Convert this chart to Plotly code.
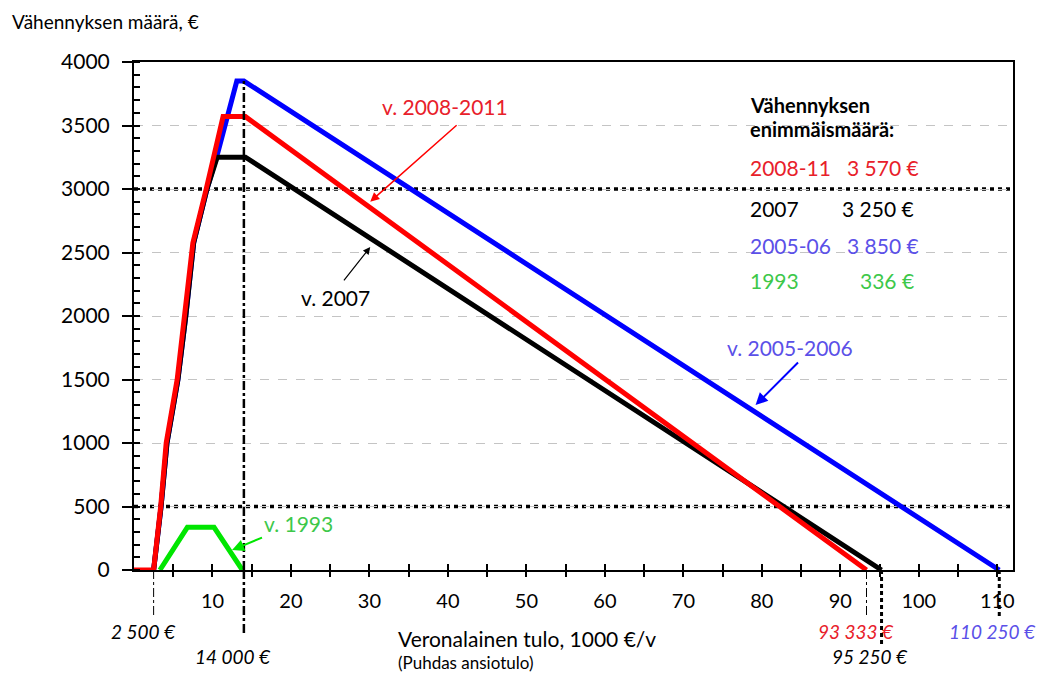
import plotly.graph_objects as go

# ---- data ----
x_red = [0, 2.5, 3.4, 4.1, 5.5, 6.5, 7.5, 9.2, 11.35, 14.2, 93.333]
y_red = [0, 0, 500, 1000, 1500, 2000, 2575, 3000, 3570, 3570, 0]
x_black = [2.5, 3.45, 4.2, 5.6, 6.6, 7.6, 9.3, 10.6, 14.2, 95.25]
y_black = [0, 500, 1000, 1500, 2000, 2575, 3000, 3250, 3250, 0]
x_blue = [2.5, 3.45, 4.2, 5.6, 6.6, 7.6, 9.3, 10.7, 13.1, 14.0, 110.25]
y_blue = [0, 500, 1000, 1500, 2000, 2575, 3000, 3290, 3850, 3850, 0]
x_green = [3.3, 6.8, 10.2, 13.8]
y_green = [0, 336, 336, 0]

x_tickvals = [5, 10, 15, 20, 25, 30, 35, 40, 45, 50, 55, 60, 65, 70, 75, 80, 85, 90, 95, 100, 105, 110]
x_ticktext = ["" if v % 10 else str(v) for v in x_tickvals]

FONT = "Lato"
RED_T = "#E8202A"
PURP_T = "#5B50E8"
GREEN_T = "#3DC84A"

# plot-area pixel geometry helper for layout text placement
L, R, T, B = 134, 1013, 62, 570
def px(xp):
    return (xp - L) / (R - L)
def py(yp):
    return (B - yp) / (B - T)

fig = go.Figure()
fig.add_trace(go.Scatter(x=x_blue, y=y_blue, mode="lines", line=dict(color="#0000FF", width=5), hoverinfo="skip"))
fig.add_trace(go.Scatter(x=x_black, y=y_black, mode="lines", line=dict(color="#000000", width=5), hoverinfo="skip"))
fig.add_trace(go.Scatter(x=x_red, y=y_red, mode="lines", line=dict(color="#FF0000", width=5), hoverinfo="skip"))
fig.add_trace(go.Scatter(x=x_green, y=y_green, mode="lines", line=dict(color="#00E600", width=5), hoverinfo="skip"))
# dummy trace for the overlay axis carrying the inward ticks
fig.add_trace(go.Scatter(x=[None], y=[None], xaxis="x2", yaxis="y", showlegend=False, hoverinfo="skip"))

shapes = []
for yv in [3000, 500]:
    shapes.append(dict(type="line", xref="x", yref="y", x0=0, x1=112, y0=yv, y1=yv,
                       line=dict(color="black", width=3.5, dash="4px,4px"), layer="below"))
# vertical markers
shapes.append(dict(type="line", xref="x", yref="y", x0=14, x1=14, y0=0, y1=3850,
                   line=dict(color="black", width=2.5, dash="dashdot"), layer="above"))
shapes.append(dict(type="line", xref="x", yref="paper", x0=14, x1=14, y0=0, y1=py(634),
                   line=dict(color="black", width=2.5, dash="dashdot")))
shapes.append(dict(type="line", xref="x", yref="paper", x0=2.5, x1=2.5, y0=0, y1=py(618),
                   line=dict(color="black", width=1, dash="dashdot")))
shapes.append(dict(type="line", xref="x", yref="paper", x0=93.333, x1=93.333, y0=0, y1=py(618),
                   line=dict(color="black", width=1, dash="dashdot")))
shapes.append(dict(type="line", xref="x", yref="paper", x0=95.25, x1=95.25, y0=0, y1=py(646),
                   line=dict(color="black", width=3, dash="4px,3px")))
shapes.append(dict(type="line", xref="x", yref="paper", x0=110.25, x1=110.25, y0=0, y1=py(618),
                   line=dict(color="black", width=3, dash="4px,3px")))

ann = []
def txt(x, y, s, color="black", size=20, xanchor="center", bold=False, italic=False):
    if bold:
        s = "<b>" + s + "</b>"
    if italic:
        s = "<i>" + s + "</i>"
    ann.append(dict(xref="paper", yref="paper", x=x, y=y, text=s, showarrow=False,
                    xanchor=xanchor, yanchor="middle",
                    font=dict(family=FONT, size=size, color=color)))

def arrow(xh, yh, xt, yt, color, width=1.5, size=1.2):
    ann.append(dict(xref="x", yref="y", axref="x", ayref="y", x=xh, y=yh, ax=xt, ay=yt,
                    text="", showarrow=True, arrowhead=2, arrowsize=size, arrowwidth=width,
                    arrowcolor=color))

# axis title texts
txt(px(10), py(22), "Vähennyksen määrä, €", size=19, xanchor="left")
txt(px(396), py(638), "Veronalainen tulo, 1000 €/v", size=21, xanchor="left")
txt(px(396), py(662), "(Puhdas ansiotulo)", size=17, xanchor="left")

# series labels with arrows
txt(px(445), py(107), "v. 2008-2011", color=RED_T, size=21)
arrow(30.1, 2900, 41.3, 3512, "#FF0000")
txt(px(335), py(297), "v. 2007", color="black", size=21)
arrow(30.1, 2543, 26.6, 2268, "black", width=1.2)
txt(px(790), py(347), "v. 2005-2006", color=PURP_T, size=21)
arrow(79.2, 1299, 84.8, 1646, "#0000FF", width=2)
txt(px(298), py(523), "v. 1993", color=GREEN_T, size=21)
arrow(12.5, 157, 16.5, 260, "#00E600", width=2)

# legend-like text block
txt(px(748), py(105), "Vähennyksen", size=20, xanchor="left", bold=True)
txt(px(748), py(129), "enimmäismäärä:", size=20, xanchor="left", bold=True)
rows = [("2008-11", "3 570 €", RED_T, 167, 921),
        ("2007", "3 250 €", "black", 208, 916),
        ("2005-06", "3 850 €", PURP_T, 245, 921),
        ("1993", "336 €", GREEN_T, 280, 916)]
for lab, val, col, yp, xr in rows:
    txt(px(748), py(yp), lab, color=col, size=21, xanchor="left")
    txt(px(xr), py(yp), val, color=col, size=21, xanchor="right")

# threshold labels under the axis
txt(px(143), py(631), "2 500 €", size=19, italic=True)
txt(px(233), py(656), "14 000 €", size=19, italic=True)
txt(px(856), py(631), "93 333 €", color=RED_T, size=19, italic=True)
txt(px(870), py(656), "95 250 €", size=19, italic=True)
txt(px(992), py(631), "110 250 €", color=PURP_T, size=19, italic=True)

fig.update_layout(
    width=1037, height=675,
    margin=dict(l=L, r=1037 - R, t=T, b=675 - B),
    paper_bgcolor="white", plot_bgcolor="white",
    showlegend=False,
    font=dict(family=FONT, size=18, color="black"),
    shapes=shapes, annotations=ann,
    xaxis=dict(range=[0, 112], tickvals=x_tickvals, ticktext=x_ticktext,
               ticks="outside", ticklen=5, tickwidth=2, tickcolor="black",
               showline=True, linecolor="black", linewidth=2, mirror=True,
               showgrid=False, zeroline=False, ticklabelstandoff=7,
               tickfont=dict(family=FONT, size=20)),
    xaxis2=dict(range=[0, 112], overlaying="x", anchor="y", side="bottom",
                tickvals=x_tickvals, ticks="inside", ticklen=6, tickwidth=2,
                tickcolor="black", showticklabels=False, showline=False,
                showgrid=False, zeroline=False),
    yaxis=dict(range=[0, 4000], dtick=500, tick0=0,
               ticks="outside", ticklen=10, tickwidth=2, tickcolor="black",
               minor=dict(dtick=100, ticks="inside", ticklen=6, tickwidth=2, tickcolor="black", showgrid=False),
               showline=True, linecolor="black", linewidth=2, mirror=True,
               showgrid=True, gridcolor="#C4C4C4", griddash="dash", gridwidth=1,
               zeroline=False, ticklabelstandoff=8,
               tickfont=dict(family=FONT, size=21)),
)

fig.write_html("out.html", config={"displayModeBar": False},
               post_script="document.body.style.margin='0px';")
